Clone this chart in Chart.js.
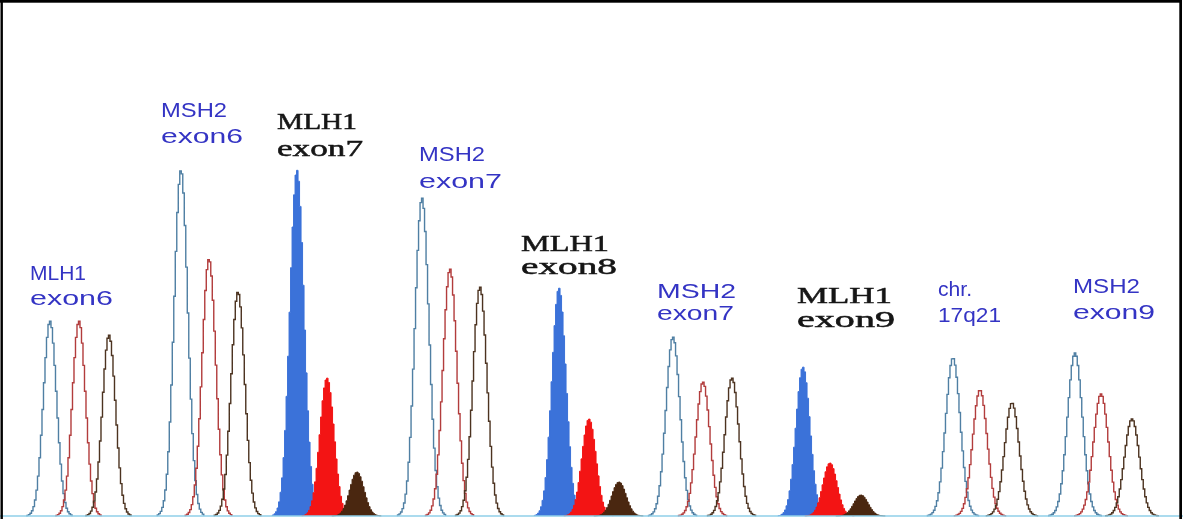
<!DOCTYPE html>
<html>
<head>
<meta charset="utf-8">
<script src="https://cdn.jsdelivr.net/npm/chart.js@4/dist/chart.umd.min.js"></script>
<style>
  html, body { margin: 0; padding: 0; background: #ffffff; }
  #wrap { position: relative; width: 1183px; height: 519px; }
</style>
</head>
<body>
<div id="wrap"><canvas id="trace" width="1183" height="519"></canvas></div>
<script>
// Fragment-analysis trace: nine amplicons, each seen in three dye channels.
const amplicons   = ['MLH1 exon6', 'MSH2 exon6', 'MLH1 exon7', 'MSH2 exon7', 'MLH1 exon8',
                     'MSH2 exon7', 'MLH1 exon9', 'chr. 17q21', 'MSH2 exon9'];
const labelTop    = ['MLH1', 'MSH2', 'MLH1', 'MSH2', 'MLH1', 'MSH2', 'MLH1', 'chr.', 'MSH2'];
const labelBottom = ['exon6', 'exon6', 'exon7', 'exon7', 'exon8', 'exon7', 'exon9', '17q21', 'exon9'];
// MLH1 exons 7-9 are the solid (filled) peaks
const filledPeak  = [false, false, true, false, true, false, true, false, false];

// peak positions along the run (size axis) and peak heights (signal units)
const bluePos     = [50, 181, 297, 422, 559, 673, 803, 953, 1075];
const blueHeight  = [195, 346, 346, 318, 228, 179, 149, 158, 163];
const redPos      = [79, 209, 327, 450, 589, 703, 830, 980, 1101];
const redHeight   = [195, 257, 138, 247, 97, 134, 53, 126, 122];
const brownPos    = [109, 238, 357, 480, 619, 732, 861, 1012, 1132];
const brownHeight = [181, 224, 44, 229, 34, 138, 21, 113, 97];
// peak width (standard deviation, size units) per amplicon
const peakSigma   = [6.6, 6.8, 7.0, 7.0, 7.0, 7.0, 7.0, 7.3, 7.5];

// ---- styling ----
const COLORS = {
  blue:  { line: '#4f7fa3', solid: '#3b72d9' },
  red:   { line: '#b23c3c', solid: '#f31414' },
  brown: { line: '#4c3320', solid: '#4a2710' }
};
const LABEL_BLUE  = '#3434c4';
const LABEL_BLACK = '#161616';
// label placement: left edge, baselines of both lines, drawn widths of both lines
const labelLayout = [
  { x: 30,   y1: 280, y2: 305, w1: 56, w2: 83 },
  { x: 161,  y1: 117, y2: 143, w1: 66, w2: 82 },
  { x: 277,  y1: 129, y2: 156, w1: 80, w2: 86 },
  { x: 419,  y1: 161, y2: 188, w1: 66, w2: 83 },
  { x: 521,  y1: 251, y2: 274, w1: 88, w2: 96 },
  { x: 657,  y1: 298, y2: 320, w1: 79, w2: 77 },
  { x: 797,  y1: 303, y2: 327, w1: 95, w2: 98 },
  { x: 938,  y1: 296, y2: 322, w1: 34, w2: 63 },
  { x: 1073, y1: 293, y2: 319, w1: 67, w2: 82 }
];

const STEP = 1.5;     // sampling step of the trace
const REACH = 3.6;    // draw each peak out to +/- REACH sigma

// Builds one channel trace (a run of points per peak, gaps between peaks)
function buildTrace(pos, height, pick) {
  const pts = [];
  pos.forEach((c, i) => {
    if (!pick(i)) return;
    const s = peakSigma[i];
    for (let x = c - REACH * s; x <= c + REACH * s; x += STEP) {
      const d = (x - c) / s;
      pts.push({ x: x, y: height[i] * Math.exp(-0.5 * d * d) });
    }
    pts.push({ x: c + REACH * s + STEP, y: null });
  });
  return pts;
}

function channel(name, pos, height, solid, order) {
  const col = solid ? COLORS[name].solid : COLORS[name].line;
  return {
    label: name + (solid ? ' (solid)' : ''),
    data: buildTrace(pos, height, i => filledPeak[i] === solid),
    borderColor: col,
    backgroundColor: col,
    borderWidth: solid ? 1 : 1.4,
    fill: solid ? 'origin' : false,
    stepped: 'middle',
    spanGaps: false,
    pointRadius: 0,
    order: order
  };
}

const datasets = [
  channel('blue',  bluePos,  blueHeight,  false, 6),
  channel('red',   redPos,   redHeight,   false, 5),
  channel('brown', brownPos, brownHeight, false, 4),
  channel('blue',  bluePos,  blueHeight,  true,  3),
  channel('red',   redPos,   redHeight,   true,  2),
  channel('brown', brownPos, brownHeight, true,  1),
  {
    label: 'baseline',
    data: [{ x: 0, y: 0 }, { x: 1183, y: 0 }],
    borderColor: '#8fcfe8',
    borderWidth: 1.6,
    pointRadius: 0,
    fill: false,
    order: 0
  }
];

// Frame around the plot and the amplicon names above the peaks
const decorations = {
  id: 'decorations',
  afterDatasetsDraw(chart) {
    const ctx = chart.ctx;
    const xs = chart.scales.x;
    ctx.save();
    amplicons.forEach((name, i) => {
      const L = labelLayout[i];
      const black = filledPeak[i];
      ctx.fillStyle = black ? LABEL_BLACK : LABEL_BLUE;
      ctx.strokeStyle = ctx.fillStyle;
      ctx.lineWidth = 0.5;
      ctx.font = black ? '23px "Liberation Serif", serif' : '21px "Liberation Sans", Arial, sans-serif';
      ctx.textBaseline = 'alphabetic';
      ctx.textAlign = 'left';
      [[labelTop[i], L.y1, L.w1], [labelBottom[i], L.y2, L.w2]].forEach(([t, y, w]) => {
        const m = ctx.measureText(t).width;
        ctx.save();
        ctx.translate(xs.getPixelForValue(L.x), y);
        ctx.scale(w / m, 1);
        ctx.fillText(t, 0, 0);
        if (black) ctx.strokeText(t, 0, 0);
        ctx.restore();
      });
    });
    // black frame (top, left, right)
    ctx.fillStyle = '#000000';
    ctx.fillRect(0, 0, 1182, 2.7);
    ctx.fillRect(0.5, 0, 2.4, 519);
    ctx.fillRect(1179.3, 0, 2.7, 519);
    ctx.restore();
  }
};

new Chart(document.getElementById('trace'), {
  type: 'line',
  data: { datasets: datasets },
  options: {
    responsive: false,
    animation: false,
    layout: { padding: 0, autoPadding: false },
    plugins: { legend: { display: false }, tooltip: { enabled: false }, title: { display: false } },
    scales: {
      x: { type: 'linear', min: 0, max: 1183, display: false },
      y: { type: 'linear', min: -3, max: 516, display: false }
    }
  },
  plugins: [decorations]
});
</script>
</body>
</html>
